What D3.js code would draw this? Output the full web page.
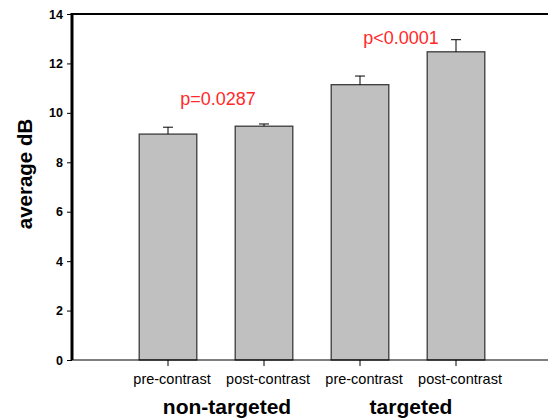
<!DOCTYPE html>
<html>
<head>
<meta charset="utf-8">
<script src="https://cdn.jsdelivr.net/npm/d3@7"></script>
<style>
  body { margin: 0; background: #fff; }
  svg { display: block; font-family: Arial, "Liberation Sans", sans-serif; }
</style>
</head>
<body>
<svg width="548" height="419"></svg>
<script>
const categories = ["pre-contrast", "post-contrast", "pre-contrast", "post-contrast"];
const groupOf = ["non-targeted", "non-targeted", "targeted", "targeted"];
const means = [9.14, 9.46, 11.14, 12.47];
const errors = [0.28, 0.09, 0.35, 0.49];
const yTicks = [0, 2, 4, 6, 8, 10, 12, 14];
const groups = ["non-targeted", "targeted"];
const pLabels = ["p=0.0287", "p<0.0001"];
const pLevels = [10.32, 12.79];

const svg = d3.select("svg");
const width = +svg.attr("width");

const plotLeft = 72, plotTop = 14, plotBottom = 360;

const data = categories.map((c, i) => ({
  key: i, cat: c, group: groupOf[i], mean: means[i], err: errors[i]
}));

const x = d3.scaleBand()
  .domain(data.map(d => d.key))
  .range([120, 504])
  .paddingInner(0.4)
  .paddingOuter(0.2);

const y = d3.scaleLinear()
  .domain([0, 14])
  .range([plotBottom, plotTop]);

const cx = d => x(d.key) + x.bandwidth() / 2;

// bars
svg.append("g")
  .selectAll("rect")
  .data(data)
  .join("rect")
  .attr("x", d => x(d.key))
  .attr("y", d => y(d.mean))
  .attr("width", x.bandwidth())
  .attr("height", d => y(0) - y(d.mean))
  .attr("fill", "#c0c0c0")
  .attr("stroke", "#3a3a3a")
  .attr("stroke-width", 1.3);

// error bars (upper only)
const errG = svg.append("g")
  .attr("stroke", "#000")
  .attr("stroke-width", 1);

errG.selectAll("line.stem")
  .data(data)
  .join("line")
  .attr("class", "stem")
  .attr("x1", cx).attr("x2", cx)
  .attr("y1", d => y(d.mean))
  .attr("y2", d => y(d.mean + d.err));

errG.selectAll("line.cap")
  .data(data)
  .join("line")
  .attr("class", "cap")
  .attr("x1", d => cx(d) - 5).attr("x2", d => cx(d) + 5)
  .attr("y1", d => y(d.mean + d.err))
  .attr("y2", d => y(d.mean + d.err));

// y axis
const yAxis = svg.append("g")
  .attr("transform", `translate(${plotLeft},0)`)
  .call(d3.axisLeft(y).tickValues(yTicks).tickSize(5).tickPadding(4));

yAxis.select(".domain").remove();
yAxis.selectAll("line").attr("stroke", "#000");
yAxis.selectAll("text")
  .attr("font-size", 12.5)
  .attr("font-weight", "bold")
  .attr("font-family", "Arial, 'Liberation Sans', sans-serif")
  .attr("fill", "#000");

// x axis ticks
const xAxis = svg.append("g")
  .attr("transform", `translate(0,${plotBottom})`)
  .call(d3.axisBottom(x).tickSize(6).tickPadding(8).tickFormat(i => categories[i]));

xAxis.select(".domain").remove();
xAxis.selectAll("line").attr("stroke", "#000");
xAxis.selectAll("text")
  .attr("font-size", 14.5)
  .attr("dx", 4)
  .attr("font-family", "Arial, 'Liberation Sans', sans-serif")
  .attr("fill", "#000");

// frame lines
svg.append("line")
  .attr("x1", plotLeft).attr("x2", width)
  .attr("y1", y(0)).attr("y2", y(0))
  .attr("stroke", "#000").attr("stroke-width", 1.2);

svg.append("line")
  .attr("x1", plotLeft).attr("x2", width)
  .attr("y1", y(14)).attr("y2", y(14))
  .attr("stroke", "#000").attr("stroke-width", 2.2);

svg.append("line")
  .attr("x1", plotLeft).attr("x2", plotLeft)
  .attr("y1", y(14) - 1).attr("y2", y(0))
  .attr("stroke", "#000").attr("stroke-width", 3);

// group labels
const groupX = g => d3.mean(data.filter(d => d.group === g), cx);

svg.append("g")
  .selectAll("text")
  .data(groups)
  .join("text")
  .attr("x", (g, i) => groupX(g) + (i === 0 ? 11 : 3))
  .attr("y", 414)
  .attr("text-anchor", "middle")
  .attr("font-size", 21)
  .attr("font-weight", "bold")
  .text(g => g);

// p-value annotations
svg.append("g")
  .selectAll("text")
  .data(groups)
  .join("text")
  .attr("x", (g, i) => groupX(g) + (i === 0 ? 2 : -7))
  .attr("y", (g, i) => y(pLevels[i]))
  .attr("text-anchor", "middle")
  .attr("font-size", 18)
  .attr("fill", "#ff2a2a")
  .text((g, i) => pLabels[i]);

// y label
svg.append("text")
  .attr("transform", "translate(32,174) rotate(-90)")
  .attr("text-anchor", "middle")
  .attr("font-size", 20.5)
  .attr("font-weight", "bold")
  .text("average dB");
</script>
</body>
</html>
